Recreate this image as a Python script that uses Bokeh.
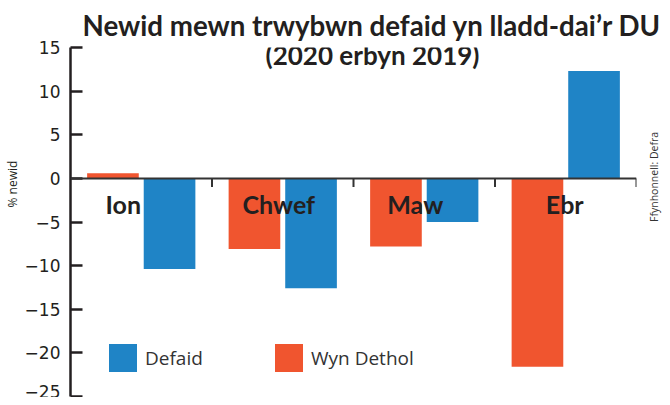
import math
from bokeh.plotting import figure
from bokeh.models import (FactorRange, Range1d, FixedTicker, Span, Label, Title,
                          Legend, LegendItem, ColumnDataSource, LinearAxis)
from bokeh.transform import dodge
from bokeh.core.properties import value
from bokeh.embed import file_html
from bokeh.resources import INLINE

# ---- data ----
months = ["Ion", "Chwef", "Maw", "Ebr"]
wyn_dethol = [0.6, -8.1, -7.8, -21.6]
defaid = [-10.4, -12.6, -5.0, 12.3]
y_ticks = [-25, -20, -15, -10, -5, 0, 5, 10, 15]

title_1 = "Newid mewn trwybwn defaid yn lladd-dai\u2019r DU"
title_2 = "(2020 erbyn 2019)"
y_label = "% newid"
source_note = "Ffynhonnell: Defra"
series_names = ["Defaid", "Wyn Dethol"]

# ---- style ----
BLUE = "#1f84c6"
ORANGE = "#f0552f"
INK = "#231f20"
label_dx = [-18, -4, -9, -1]   # screen-pixel nudges of the month labels

src = ColumnDataSource(dict(month=months, wyn=wyn_dethol, defaid=defaid,
                            dx=label_dx))

p = figure(width=670, height=397,
           x_range=FactorRange(*months, range_padding=0),
           y_range=Range1d(-25, 15),
           output_backend="svg", toolbar_location=None,
           min_border_left=70, min_border_right=30,
           min_border_top=47, min_border_bottom=1)
p.outline_line_color = None
p.xgrid.visible = False
p.ygrid.visible = False
p.xaxis.visible = False
p.background_fill_color = "white"
p.border_fill_color = "white"

r_or = p.vbar(x=dodge("month", -0.2, range=p.x_range), top="wyn", bottom=0,
              width=0.365, fill_color=ORANGE, line_color=None, source=src)
r_bl = p.vbar(x=dodge("month", 0.2, range=p.x_range), top="defaid", bottom=0,
              width=0.365, fill_color=BLUE, line_color=None, source=src)

# zero line with boundary ticks
p.add_layout(Span(location=0, dimension="width", line_color="#333333",
                  line_width=2))
p.segment(x0=dodge("month", 0.5, range=p.x_range), y0=0,
          x1=dodge("month", 0.5, range=p.x_range), y1=-1.0,
          line_color="#333333", line_width=2, source=src)

# month labels
p.text(x=dodge("month", 0, range=p.x_range), y=0, text="month",
       x_offset="dx", y_offset=26, source=src,
       text_font=value("Lato"), text_font_style="bold",
       text_font_size="25px", text_align="center", text_baseline="middle",
       text_color=INK)

# y axis
ax = p.yaxis[0]
ax.ticker = FixedTicker(ticks=y_ticks)
ax.major_tick_in = 12
ax.major_tick_out = 0
ax.minor_tick_in = 0
ax.minor_tick_out = 0
ax.axis_line_width = 2.5
ax.axis_line_color = INK
ax.major_tick_line_width = 2.5
ax.major_tick_line_color = INK
ax.major_label_text_font = "DejaVu Sans"
ax.major_label_text_font_size = "17px"
ax.major_label_text_color = INK
ax.major_label_standoff = 10

# right-hand source note, carried by a bare axis
src_axis = LinearAxis(ticker=FixedTicker(ticks=[]), bounds=(0, 9.8),
                      axis_line_color=None, major_tick_line_color=None,
                      minor_tick_line_color=None,
                      major_tick_in=0, major_tick_out=0,
                      minor_tick_in=0, minor_tick_out=0,
                      major_label_standoff=0,
                      major_label_text_font_size="0px",
                      axis_label=source_note,
                      axis_label_orientation=math.pi / 2,
                      axis_label_standoff=17,
                      axis_label_text_font="Open Sans",
                      axis_label_text_font_style="normal",
                      axis_label_text_font_size="10.5px",
                      axis_label_text_color="#333333")
p.add_layout(src_axis, "right")

# titles
p.add_layout(Title(text=title_1, align="left", offset=12, standoff=7,
                   vertical_align="top",
                   text_font="Lato", text_font_style="bold",
                   text_font_size="27.7px", text_color=INK), "above")
p.add_layout(Label(x=302, y=342, x_units="screen", y_units="screen",
                   text=title_2, text_align="center",
                   text_baseline="alphabetic",
                   text_font="Lato", text_font_style="bold",
                   text_font_size="26px", text_color=INK))
p.add_layout(Title(text=y_label, align="left", offset=189, standoff=0,
                   vertical_align="middle",
                   text_font="Open Sans", text_font_style="normal",
                   text_font_size="12px", text_color=INK), "left")

legend = Legend(items=[LegendItem(label=series_names[0], renderers=[r_bl]),
                       LegendItem(label=series_names[1], renderers=[r_or])],
                orientation="horizontal", location=(35, 21),
                glyph_width=35, glyph_height=35, label_standoff=5,
                label_width=126, spacing=0, padding=0, margin=0,
                border_line_color=None, background_fill_alpha=0,
                label_text_font="Open Sans", label_text_font_size="19px",
                label_text_color="#333333")
p.add_layout(legend)

open("out.html", "w").write(file_html(p, INLINE))
